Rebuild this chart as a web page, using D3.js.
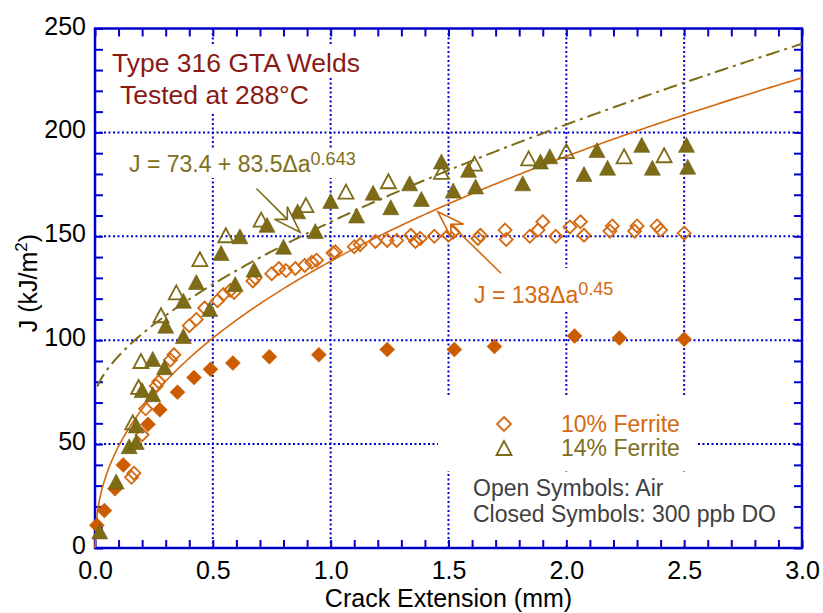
<!DOCTYPE html>
<html>
<head>
<meta charset="utf-8">
<script src="https://cdn.jsdelivr.net/npm/d3@7"></script>
<style>
  body { margin: 0; background: #fff; }
  svg { display: block; font-family: "Liberation Sans", Arial, sans-serif; }
</style>
</head>
<body>
<div id="chart"></div>
<script>
// 10% ferrite, open symbols (air)  [crack extension mm, J kJ/m2]
var ferrite10Air = [
  [0.155,34],[0.165,36],[0.20,54.5],[0.215,67],[0.26,78],[0.27,80],[0.32,90.5],[0.335,93],
  [0.40,107],[0.43,110],[0.465,115.5],[0.52,119],[0.545,122],[0.575,124],[0.59,123],
  [0.67,128.5],[0.68,130],[0.75,132],[0.78,134.5],[0.81,133.5],[0.85,134.5],[0.89,136],
  [0.92,137.5],[0.94,138.5],[1.01,142],[1.02,142.5],[1.10,145],[1.125,146],[1.19,147.5],
  [1.24,148],[1.28,148],[1.34,150.5],[1.36,147.5],[1.38,149],[1.44,150],[1.50,150.5],
  [1.52,152],[1.625,149],[1.635,150.5],[1.74,153],[1.745,148.5],[1.845,150],[1.88,153],
  [1.90,157],[1.955,150],[2.015,154.5],[2.06,157],[2.075,150.5],[2.185,152.5],[2.195,155],
  [2.29,152.5],[2.30,155],[2.385,155],[2.40,153],[2.50,151.5]
];
// 10% ferrite, closed symbols (300 ppb DO)
var ferrite10DO = [
  [0.008,11],[0.04,18],[0.085,28.5],[0.12,40],[0.225,59.5],[0.275,66.5],[0.35,75],
  [0.42,82],[0.49,86],[0.585,89],[0.74,92],[0.95,93],[1.24,95.5],[1.525,95.5],
  [1.695,97],[2.035,102],[2.225,101],[2.5,100.5]
];
// 14% ferrite, open symbols (air)
var ferrite14Air = [
  [0.16,60.5],[0.185,77.5],[0.195,90],[0.28,112],[0.345,123],[0.445,139],[0.555,150.5],
  [0.705,158],[0.895,165],[1.065,171.5],[1.245,176.5],[1.47,181],[1.61,185],[1.84,187.5],
  [2.0,191],[2.245,188.5],[2.415,189]
];
// 14% ferrite, closed symbols (300 ppb DO)
var ferrite14DO = [
  [0.02,8],[0.09,32],[0.145,49],[0.175,51],[0.175,59],[0.2,76],[0.245,74],[0.245,91],
  [0.295,87],[0.30,107],[0.375,102],[0.375,119],[0.43,128],[0.487,115],[0.535,142],
  [0.595,127],[0.615,150],[0.675,134],[0.73,155.5],[0.80,145],[0.86,162],[0.935,152.5],
  [1.0,167],[1.11,160],[1.18,171],[1.255,164],[1.335,175.5],[1.385,168],[1.47,186],
  [1.52,172],[1.585,182],[1.615,174],[1.815,175.5],[1.89,186],[1.93,188.5],[2.075,180],
  [2.13,191.5],[2.175,183],[2.32,194],[2.365,183],[2.51,194],[2.515,183.5]
];

// fitted curves J = a + b * da^c, as printed on the chart
var fit10 = { a: 0, b: 138, c: 0.45 };
var fit14 = { a: 73.4, b: 83.5, c: 0.643 };

var xTickLabels = [0, 0.5, 1.0, 1.5, 2.0, 2.5, 3.0];
var yTickLabels = [0, 50, 100, 150, 200, 250];
var xGrid = [0.5, 1.0, 1.5, 2.0, 2.5];
var yGrid = [50, 100, 150, 200];

var width = 823, height = 613;
var blue = "#0000cc";
var orange = "#cc5c00";
var orangeLine = "#d4690f";
var olive = "#7d6b16";
var oliveText = "#7f6e1c";
var darkRed = "#8a1a14";

var svg = d3.select("#chart").append("svg")
    .attr("width", width)
    .attr("height", height);

var x = d3.scaleLinear().domain([0, 3]).range([95, 802]);
var y = d3.scaleLinear().domain([0, 250]).range([548, 28.5]);

// dotted grid
svg.append("g").selectAll("line")
  .data(xGrid).enter().append("line")
    .attr("x1", function(d) { return x(d); })
    .attr("x2", function(d) { return x(d); })
    .attr("y1", y(250)).attr("y2", y(0))
    .attr("stroke", blue).attr("stroke-width", 2)
    .attr("stroke-dasharray", "2,2.5");
svg.append("g").selectAll("line")
  .data(yGrid).enter().append("line")
    .attr("y1", function(d) { return y(d); })
    .attr("y2", function(d) { return y(d); })
    .attr("x1", x(0)).attr("x2", x(3))
    .attr("stroke", blue).attr("stroke-width", 2)
    .attr("stroke-dasharray", "2,2.5");

// white boxes behind the text blocks (they hide the grid there)
var masks = [
  [108, 44, 260, 34], [116, 78, 196, 34],
  [125, 148, 240, 30],
  [465, 268, 155, 42],
  [438, 396, 260, 75],
  [460, 474, 340, 72]
];
svg.append("g").selectAll("rect")
  .data(masks).enter().append("rect")
    .attr("x", function(d) { return d[0]; })
    .attr("y", function(d) { return d[1]; })
    .attr("width", function(d) { return d[2]; })
    .attr("height", function(d) { return d[3]; })
    .attr("fill", "#fff");

// ticks inside the frame on all four sides
var minorX = d3.range(0, 3.0001, 0.1);
var minorY = d3.range(0, 250.001, 10);
svg.append("g").attr("transform", "translate(0," + y(0) + ")")
    .call(d3.axisBottom(x).tickValues(minorX).tickSize(-8).tickFormat(""));
svg.append("g").attr("transform", "translate(0," + y(250) + ")")
    .call(d3.axisTop(x).tickValues(minorX).tickSize(-8).tickFormat(""));
svg.append("g").attr("transform", "translate(" + x(0) + ",0)")
    .call(d3.axisLeft(y).tickValues(minorY).tickSize(-8).tickFormat(""));
svg.append("g").attr("transform", "translate(" + x(3) + ",0)")
    .call(d3.axisRight(y).tickValues(minorY).tickSize(-8).tickFormat(""));
svg.selectAll(".tick line").attr("stroke", blue).attr("stroke-width", 2);
svg.selectAll(".domain").remove();

// tick labels
var xLab = svg.append("g").attr("transform", "translate(0," + y(0) + ")")
    .call(d3.axisBottom(x).tickValues(xTickLabels).tickSize(0).tickPadding(13)
      .tickFormat(d3.format(".1f")));
var yLab = svg.append("g").attr("transform", "translate(" + x(0) + ",0)")
    .call(d3.axisLeft(y).tickValues(yTickLabels).tickSize(0).tickPadding(9));
[xLab, yLab].forEach(function(g) {
  g.select(".domain").remove();
  g.selectAll("text").attr("font-size", 25).attr("fill", "#000")
    .attr("font-family", "Liberation Sans, Arial, sans-serif");
});
yLab.selectAll("text").attr("dy", "0.22em");

// frame
svg.append("rect")
    .attr("x", x(0)).attr("y", y(250))
    .attr("width", x(3) - x(0)).attr("height", y(0) - y(250))
    .attr("fill", "none").attr("stroke", blue).attr("stroke-width", 2.5);

// axis titles
svg.append("text")
    .attr("x", (x(0) + x(3)) / 2).attr("y", 607)
    .attr("text-anchor", "middle").attr("font-size", 25)
    .text("Crack Extension (mm)");
var yt = svg.append("text")
    .attr("transform", "translate(37," + 283 + ") rotate(-90)")
    .attr("text-anchor", "middle").attr("font-size", 25);
yt.append("tspan").text("J (kJ/m");
yt.append("tspan").attr("font-size", 17).attr("dy", -10).text("2");
yt.append("tspan").attr("dy", 10).text(")");

// fitted curves
function fitPoints(f, start) {
  return d3.range(start, 3.0001, 0.01).map(function(d) {
    return [d, f.a + f.b * Math.pow(d, f.c)];
  });
}
var line = d3.line()
    .x(function(d) { return x(d[0]); })
    .y(function(d) { return y(d[1]); });

svg.append("path")
    .datum([[0, 0]].concat(fitPoints(fit10, 0.01)))
    .attr("d", line)
    .attr("fill", "none").attr("stroke", orangeLine).attr("stroke-width", 1.6);
svg.append("path")
    .datum(fitPoints(fit14, 0.01))
    .attr("d", line)
    .attr("fill", "none").attr("stroke", olive).attr("stroke-width", 2)
    .attr("stroke-dasharray", "14,5,3,5");

// marker shapes
function diamond(r) {
  return "M0," + (-r) + "L" + r + ",0L0," + r + "L" + (-r) + ",0Z";
}
function triangle(w, h) {
  return "M0," + (-h / 2) + "L" + (w / 2) + "," + (h / 2) + "L" + (-w / 2) + "," + (h / 2) + "Z";
}

function plot(data, shape, fill, stroke, sw) {
  svg.append("g").selectAll("path")
    .data(data).enter().append("path")
      .attr("transform", function(d) { return "translate(" + x(d[0]) + "," + y(d[1]) + ")"; })
      .attr("d", shape)
      .attr("fill", fill)
      .attr("stroke", stroke)
      .attr("stroke-width", sw);
}

plot(ferrite10Air, diamond(6.5), "none", orangeLine, 1.8);
plot(ferrite14Air, triangle(15, 14), "none", olive, 1.8);
plot(ferrite10DO, diamond(7.5), orange, orange, 0.5);
plot(ferrite14DO, triangle(16, 15), olive, "#6b5c10", 0.6);

// hollow arrows from the equations to the curves
function arrow(from, to, color) {
  var x0 = x(from[0]), y0 = y(from[1]), x1 = x(to[0]), y1 = y(to[1]);
  var a = Math.atan2(y1 - y0, x1 - x0);
  var pts = [[0, 0], [-27, -9], [-18, 0], [-27, 9]].map(function(p) {
    return [x1 + p[0] * Math.cos(a) - p[1] * Math.sin(a),
            y1 + p[0] * Math.sin(a) + p[1] * Math.cos(a)];
  });
  svg.append("line")
      .attr("x1", x0).attr("y1", y0)
      .attr("x2", pts[2][0]).attr("y2", pts[2][1])
      .attr("stroke", color).attr("stroke-width", 1.6);
  svg.append("path")
      .attr("d", "M" + pts.join("L") + "Z")
      .attr("fill", "#fff").attr("stroke", color).attr("stroke-width", 1.6)
      .attr("stroke-linejoin", "miter");
}
arrow([0.685, 173], [0.87, 152], olive);
arrow([1.723, 132.2], [1.455, 161.8], orangeLine);

// title
svg.append("text").attr("x", 112).attr("y", 72)
    .attr("font-size", 26.5).attr("fill", darkRed).text("Type 316 GTA Welds");
svg.append("text").attr("x", 120).attr("y", 104)
    .attr("font-size", 26.5).attr("fill", darkRed).text("Tested at 288°C");

// equations
var e1 = svg.append("text").attr("x", 129).attr("y", 172)
    .attr("font-size", 23).attr("fill", oliveText);
e1.append("tspan").text("J = 73.4 + 83.5\u0394a");
e1.append("tspan").attr("font-size", 18).attr("dy", -7).text("0.643");

var e2 = svg.append("text").attr("x", 474).attr("y", 303)
    .attr("font-size", 23).attr("fill", orangeLine);
e2.append("tspan").text("J = 138\u0394a");
e2.append("tspan").attr("font-size", 18).attr("dy", -8).text("0.45");

// legend
svg.append("path").attr("transform", "translate(504,424)")
    .attr("d", diamond(7)).attr("fill", "none").attr("stroke", orangeLine).attr("stroke-width", 1.8);
svg.append("path").attr("transform", "translate(504,448)")
    .attr("d", triangle(15, 14)).attr("fill", "none").attr("stroke", olive).attr("stroke-width", 1.8);
svg.append("text").attr("x", 561).attr("y", 432)
    .attr("font-size", 23).attr("fill", orangeLine).text("10% Ferrite");
svg.append("text").attr("x", 561).attr("y", 456)
    .attr("font-size", 23).attr("fill", oliveText).text("14% Ferrite");

svg.append("text").attr("x", 473).attr("y", 496)
    .attr("font-size", 23).attr("fill", "#404040").text("Open Symbols: Air");
svg.append("text").attr("x", 473).attr("y", 522)
    .attr("font-size", 23).attr("fill", "#404040").text("Closed Symbols: 300 ppb DO");
</script>
</body>
</html>
